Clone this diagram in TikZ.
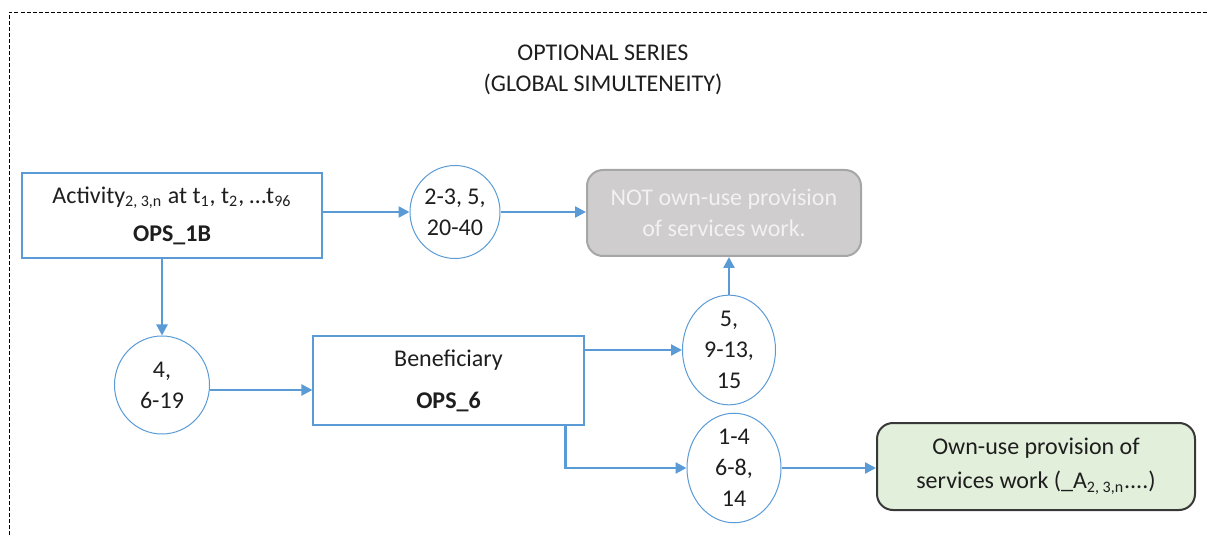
\documentclass[tikz,border=0pt]{standalone}
\usepackage{fontspec}
\setmainfont{Carlito}
\usetikzlibrary{arrows.meta,shapes.geometric}
\definecolor{blau}{RGB}{91,155,213}
\definecolor{grau}{RGB}{207,205,206}
\definecolor{graurand}{RGB}{166,166,166}
\definecolor{gruen}{RGB}{226,239,218}
\definecolor{schrift}{RGB}{30,30,30}

\begin{document}
\begin{tikzpicture}[x=0.5pt,y=-0.5pt,
	every node/.style={font=\fontsize{12}{15.5}\selectfont,text=schrift,align=center},
	kasten/.style={draw=blau,line width=0.6pt,inner sep=0pt},
	kreis/.style={ellipse,draw=blau,line width=0.5pt,inner sep=0pt},
	ende/.style={rounded corners=8pt,line width=1pt,inner sep=0pt},
	pfeil/.style={draw=blau,line width=1.2pt,-{Triangle[length=5.5pt,width=5.5pt]}}]
		\useasboundingbox (0,0) rectangle (1207,535);
		% Rahmen
		\draw[dashed,line width=0.4pt,dash pattern=on 2pt off 1pt] (9.5,535) -- (9.5,12) -- (1207,12);
		
		% Titel
		\node (titel) at (603,70) {OPTIONAL SERIES\\(GLOBAL SIMULTENEITY)};
		
		% Kaesten
		\node[kasten,minimum width=150pt,minimum height=42.5pt] (ops1b) at (172,215.5)
			{Activity\textsubscript{2, 3,n} at t\textsubscript{1}, t\textsubscript{2}, …t\textsubscript{96}\\[3.5pt]\textbf{OPS\_1B}};
		\node[kasten,minimum width=135.5pt,minimum height=44.5pt] (benef) at (448.5,380.5)
			{Beneficiary\\[5.5pt]\textbf{OPS\_6}};
		
		% Kreise
		\node[kreis,minimum width=45pt,minimum height=46.5pt] (kreisA) at (455,212) {2-3, 5,\\20-40};
		\node[kreis,minimum width=47.5pt,minimum height=49pt] (kreisB) at (162,385) {4,\\6-19};
		\node[kreis,minimum width=46.5pt,minimum height=50pt] (kreisC) at (729,350) {5,\\9-13,\\15};
		\node[kreis,minimum width=47pt,minimum height=48.5pt] (kreisD) at (734,468) {1-4\\6-8,\\14};
		
		% Ergebnisse
		\node[ende,draw=graurand,fill=grau,text=white!95!black,minimum width=137pt,minimum height=43pt] (nicht) at (724,213)
			{NOT own-use provision\\of services work.};
		\node[ende,draw=black!78,fill=gruen,minimum width=159pt,minimum height=43.5pt] (eigen) at (1036,466.5)
			{Own-use provision of\\[1.5pt]services work (\_A\textsubscript{2, 3,n}....)};
		
		% Pfeile
		\draw[pfeil] (ops1b.east |- kreisA) -- (kreisA);
		\draw[pfeil] (kreisA.east) -- (kreisA.east -| nicht.west);
		\draw[pfeil] (kreisB |- ops1b.south) -- (kreisB);
		\draw[pfeil] ([yshift=-2.5pt]kreisB.east) -- ([yshift=-2.5pt]kreisB.east -| benef.west);
		\draw[pfeil] (benef.east |- kreisC) -- (kreisC);
		\draw[pfeil] (kreisC) -- (kreisC |- nicht.south);
		\draw[pfeil] ([xshift=-9.5pt]benef.south east) |- (kreisD);
		\draw[pfeil] (kreisD.east) -- (kreisD.east -| eigen.west);
	\end{tikzpicture}
\end{document}
